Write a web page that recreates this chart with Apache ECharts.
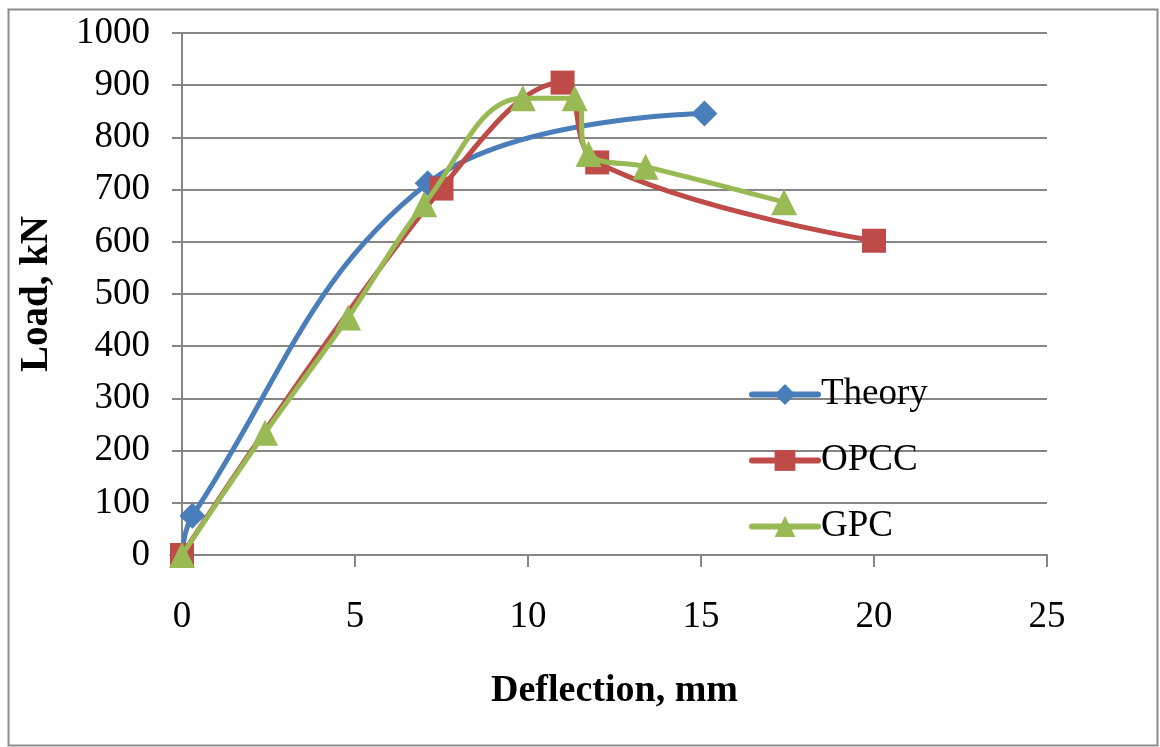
<!DOCTYPE html>
<html><head><meta charset="utf-8">
<script src="https://cdn.jsdelivr.net/npm/echarts@6/dist/echarts.min.js"></script>
<style>html,body{margin:0;padding:0;background:#fff}#c{width:1160px;height:747px}</style>
</head><body><div id="c"></div>
<script>
const theoryX = [0, 0.3, 7.1, 15.1];
const theoryY = [0, 75, 712, 846];
const opccX = [0, 7.5, 11.0, 12.0, 20.0];
const opccY = [0, 702, 905, 752, 602];
const gpcX = [0, 2.4, 4.8, 7.0, 9.85, 11.35, 11.75, 13.4, 17.4];
const gpcY = [0, 234, 455, 672, 875, 875, 768, 744, 676];
const xTicks = [0, 5, 10, 15, 20, 25];
const yTicks = [0, 100, 200, 300, 400, 500, 600, 700, 800, 900, 1000];

const pairs = (xs, ys) => xs.map((x, i) => [x, ys[i]]);
const font = '"Liberation Serif", "Times New Roman", serif';
const chart = echarts.init(document.getElementById('c'));
chart.setOption({
  animation: false,
  backgroundColor: '#fff',
  graphic: [{type: 'rect', shape: {x: 8.5, y: 9.5, width: 1149, height: 736}, style: {fill: 'none', stroke: '#8c8c8c', lineWidth: 2}, silent: true}],
  grid: {left: 182, top: 33, right: 113, bottom: 192, containLabel: false},
  xAxis: {
    type: 'value', min: xTicks[0], max: xTicks[xTicks.length - 1], interval: 5,
    name: 'Deflection, mm', nameLocation: 'middle', nameGap: 117,
    nameTextStyle: {fontFamily: font, fontSize: 38, fontWeight: 'bold', color: '#000'},
    axisLine: {lineStyle: {color: '#868686', width: 2}},
    axisTick: {show: true, length: 12, lineStyle: {color: '#868686', width: 2}},
    axisLabel: {fontFamily: font, fontSize: 37, color: '#000', margin: 44,
                formatter: v => String(v)},
    splitLine: {show: false}
  },
  yAxis: {
    type: 'value', min: yTicks[0], max: yTicks[yTicks.length - 1], interval: 100,
    name: 'Load, kN', nameLocation: 'middle', nameGap: 126, nameRotate: 90,
    nameTextStyle: {fontFamily: font, fontSize: 39, fontWeight: 'bold', color: '#000'},
    axisLine: {show: true, lineStyle: {color: '#868686', width: 2}},
    axisTick: {show: true, length: 10, lineStyle: {color: '#868686', width: 2}},
    axisLabel: {fontFamily: font, fontSize: 37, color: '#000', margin: 32,
                formatter: v => String(v)},
    splitLine: {show: true, lineStyle: {color: '#868686', width: 2}}
  },
  legend: {
    orient: 'vertical', left: 744, top: 371, itemGap: 29, itemWidth: 66, itemHeight: 26,
    lineStyle: {width: 6, cap: 'round'},
    textStyle: {fontFamily: font, fontSize: 37, color: '#000', padding: [0, 0, 0, -2]},
    data: ['Theory', 'OPCC', 'GPC']
  },
  series: [
    {name: 'Theory', type: 'line', data: pairs(theoryX, theoryY), smooth: 0.4,
     symbol: 'diamond', symbolSize: 26, z: 2,
     lineStyle: {color: '#4A7EBB', width: 5}, itemStyle: {color: '#4A7EBB'}},
    {name: 'OPCC', type: 'line', data: pairs(opccX, opccY), smooth: 0.4,
     symbol: 'rect', symbolSize: 24, z: 3,
     lineStyle: {color: '#BE4B48', width: 5}, itemStyle: {color: '#BE4B48'}},
    {name: 'GPC', type: 'line', data: pairs(gpcX, gpcY), smooth: 0.4,
     symbol: 'triangle', symbolSize: 26, z: 4,
     lineStyle: {color: '#98B954', width: 5}, itemStyle: {color: '#98B954'}}
  ]
});
</script></body></html>
